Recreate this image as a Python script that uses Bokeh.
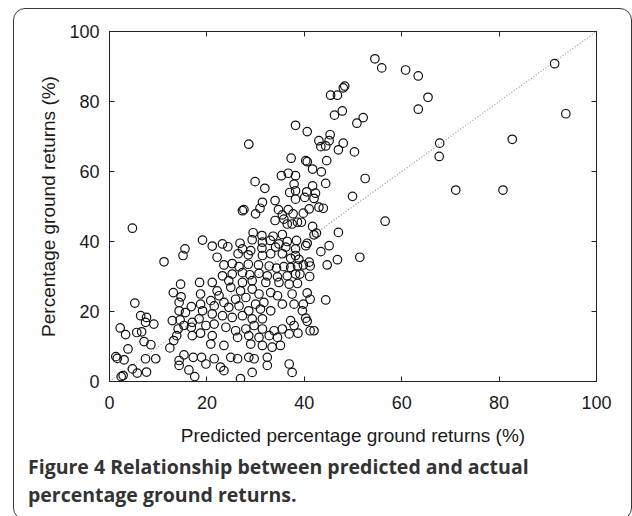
from bokeh.plotting import figure
from bokeh.models import Range1d, LinearAxis, Div, InlineStyleSheet
from bokeh.layouts import column
from bokeh.embed import file_html
from bokeh.resources import INLINE

# (predicted %, actual %) pairs
pts_low = [
    (4.7, 43.8), (11.2, 34.2), (15.5, 37.9), (15.1, 36.0), (19.1, 40.4),
    (14.6, 27.8), (18.5, 28.3), (13.1, 25.4), (14.7, 24.2), (14.3, 22.6), (18.7, 25.0),
    (5.2, 22.4), (16.8, 21.4), (14.3, 20.2), (15.6, 19.7), (19.1, 20.2), (6.4, 18.8),
    (7.6, 18.3), (7.4, 16.9), (9.1, 16.4), (12.9, 17.4), (14.5, 17.6), (17.0, 16.9),
    (18.4, 17.9), (2.2, 15.3), (3.3, 13.4), (5.6, 14.0), (6.6, 14.2), (14.1, 15.0),
    (15.3, 16.0), (16.8, 15.5), (13.8, 13.1), (13.2, 11.7), (17.0, 13.1), (18.7, 13.8),
    (7.1, 11.4), (8.5, 10.5), (3.8, 9.3), (12.4, 9.6), (1.3, 7.1), (1.6, 6.6), (3.0, 6.2),
    (7.4, 6.5), (9.5, 6.5), (14.3, 6.0), (15.3, 7.6), (17.2, 6.9), (18.9, 6.9), (14.3, 4.6),
    (16.3, 3.3), (17.5, 1.4), (4.7, 3.6), (5.7, 2.4), (7.6, 2.7), (2.8, 1.7), (2.4, 1.4),
]
pts_mid_upper = [
    (28.6, 67.8), (37.3, 63.8), (35.3, 58.8), (36.7, 59.5), (38.2, 58.8), (29.9, 57.1),
    (31.9, 55.2), (37.0, 54.0), (38.2, 54.5), (34.0, 51.7), (38.2, 52.1), (31.4, 51.2),
    (30.9, 49.5), (27.6, 49.1), (27.3, 48.8), (30.0, 47.9), (34.7, 49.1), (36.7, 49.1),
    (35.5, 47.6), (37.7, 47.9), (34.0, 46.0), (35.8, 46.4), (36.5, 45.0), (37.5, 45.0),
    (38.6, 45.5), (29.5, 42.5), (31.3, 41.7), (33.6, 41.5), (35.5, 42.0), (21.1, 38.7),
    (23.2, 39.3), (24.3, 38.5), (26.8, 39.5), (29.3, 40.5), (31.4, 39.8), (33.0, 40.3),
    (34.8, 39.3), (36.5, 40.0), (27.3, 37.9), (29.0, 37.4), (31.3, 38.1), (34.1, 38.4),
    (36.2, 38.4), (38.2, 37.9), (26.4, 36.5), (28.5, 36.2), (31.4, 36.0), (33.1, 36.5),
    (35.5, 36.5), (37.2, 35.2), (22.1, 35.5),
]
pts_mid_lower = [
    (23.5, 33.3), (25.2, 33.7), (26.6, 32.8), (28.5, 33.5), (30.6, 33.3), (32.8, 33.0),
    (34.3, 32.4), (35.8, 32.8), (37.2, 32.6), (38.6, 33.0),
    (23.2, 30.2), (25.2, 30.7), (27.3, 31.1), (28.8, 30.5), (30.7, 30.9), (32.4, 30.2),
    (34.5, 29.9), (36.5, 30.2), (38.2, 30.7),
    (21.1, 28.3), (24.5, 28.8), (27.3, 28.3), (29.3, 28.8), (32.1, 28.3), (34.8, 28.3), (36.9, 27.8),
    (22.1, 25.9), (24.9, 26.9), (26.9, 25.9), (29.3, 26.4), (30.7, 25.0), (33.1, 25.4),
    (34.5, 24.5), (37.5, 25.0),
    (18.7, 22.1), (20.8, 23.1), (22.5, 24.5), (23.5, 22.6), (25.9, 23.5), (28.0, 24.0),
    (30.0, 22.1), (31.7, 22.6), (35.5, 22.1), (37.9, 22.1),
    (21.5, 21.6), (24.5, 21.2), (26.6, 21.6), (28.6, 20.2), (31.0, 20.7), (33.1, 20.2),
    (21.1, 19.3), (23.2, 18.8), (25.2, 18.3), (27.3, 18.8), (29.3, 17.9), (31.4, 17.9), (37.2, 17.4),
    (19.8, 16.0), (21.5, 16.4), (23.9, 15.5), (25.9, 14.5), (28.0, 15.0), (29.7, 16.0),
    (31.4, 15.0), (33.8, 14.5), (35.5, 15.0), (37.9, 16.0),
    (21.1, 13.1), (26.3, 12.6), (28.6, 13.1), (30.7, 12.6), (32.8, 13.1), (34.5, 12.6), (36.9, 13.6),
    (20.8, 10.7), (23.5, 10.3), (29.0, 10.7), (31.4, 10.3), (33.4, 9.8), (35.1, 10.3),
    (21.5, 6.5), (24.9, 6.9), (26.3, 6.5), (28.6, 6.9), (29.7, 6.5), (32.4, 6.9),
    (19.8, 5.0), (22.8, 4.1), (23.5, 3.1), (29.3, 2.6), (32.4, 4.6), (36.9, 5.0), (37.5, 2.6),
    (26.9, 0.8),
]
pts_high = [
    (38.2, 73.2), (54.5, 92.2), (55.9, 89.6), (48.3, 84.4), (48.0, 83.9), (45.4, 81.8),
    (46.8, 81.8), (47.8, 77.3), (46.2, 76.1), (52.1, 75.4), (50.8, 73.8), (40.6, 71.4),
    (43.0, 68.8), (45.3, 70.5), (45.1, 68.8), (48.0, 68.1),
    (43.4, 67.1), (44.4, 67.3), (47.0, 66.2), (50.3, 65.6), (40.3, 63.1), (40.6, 62.8),
    (44.6, 63.1), (41.7, 60.7), (43.5, 59.9), (44.4, 56.6), (52.5, 58.0), (37.9, 56.4),
    (41.7, 55.9), (40.5, 54.2), (42.3, 53.8), (40.1, 52.6), (42.0, 52.3), (49.9, 52.9),
    (43.0, 49.8), (43.9, 49.5), (41.0, 49.3), (39.8, 48.1), (56.6, 45.8), (39.4, 45.5),
    (41.7, 44.3), (42.5, 42.4), (42.0, 41.9), (47.0, 42.6), (38.4, 40.3), (40.6, 39.5),
    (40.3, 38.8), (45.1, 38.8), (43.4, 37.1), (38.2, 36.0), (38.9, 34.9), (41.0, 34.1),
    (46.8, 34.8), (51.4, 35.5),
    (39.8, 33.3), (41.2, 33.0), (44.7, 33.3), (39.1, 30.7), (41.1, 30.0), (38.6, 28.0),
    (40.6, 25.3), (41.2, 23.5), (44.4, 23.3), (39.8, 22.1), (39.6, 20.2), (40.3, 18.1),
    (40.6, 17.2), (38.7, 13.8), (41.2, 14.5), (42.0, 14.5),
]
pts_far = [
    (60.8, 89.0), (63.4, 87.3), (65.4, 81.2), (63.4, 77.8), (91.4, 90.8), (93.7, 76.5),
    (67.8, 68.1), (82.7, 69.2), (67.7, 64.3), (71.1, 54.7), (80.8, 54.7),
]
all_pts = pts_low + pts_mid_upper + pts_mid_lower + pts_high + pts_far
predicted = [a for a, b in all_pts]
actual = [b for a, b in all_pts]

identity = [0, 100]
tick_values = [0, 20, 40, 60, 80, 100]
x_title = "Predicted percentage ground returns (%)"
y_title = "Percentage ground returns (%)"
caption_line1 = "Figure 4 Relationship between predicted and actual"
caption_line2 = "percentage ground returns."

FONT = "Liberation Sans"

p = figure(width=607, height=440, x_range=Range1d(0, 100), y_range=Range1d(0, 100),
           output_backend="svg", toolbar_location=None,
           min_border_left=96, min_border_right=24, min_border_top=23, min_border_bottom=66)
p.grid.visible = False
p.outline_line_color = "#222222"
p.outline_line_width = 1
p.background_fill_color = "white"
p.border_fill_color = None

p.line(identity, identity, line_color="#9a9a9a", line_width=1.2, line_dash="1 2")
p.scatter(predicted, actual, marker="circle", size=8.5, fill_color=None,
          line_color="#111111", line_width=1.2)

for ax in (p.xaxis[0], p.yaxis[0]):
    ax.ticker = tick_values
    ax.major_tick_in = 5
    ax.major_tick_out = 0
    ax.minor_tick_line_color = None
    ax.axis_line_color = "#222222"
    ax.major_tick_line_color = "#222222"
    ax.major_label_text_font = FONT
    ax.major_label_text_font_size = "18px"
    ax.major_label_text_color = "#1a1a1a"
    ax.axis_label_text_font = FONT
    ax.axis_label_text_font_size = "19px"
    ax.axis_label_text_font_style = "normal"
    ax.axis_label_text_color = "#1a1a1a"

p.xaxis[0].axis_label = x_title
p.xaxis[0].major_label_standoff = 14
p.xaxis[0].axis_label_standoff = 13
p.yaxis[0].axis_label = y_title
p.yaxis[0].major_label_standoff = 10
p.yaxis[0].axis_label_standoff = 7

for side in ("right", "above"):
    ax = LinearAxis(ticker=tick_values)
    ax.major_tick_in = 5
    ax.major_tick_out = 0
    ax.minor_tick_line_color = None
    ax.axis_line_color = "#222222"
    ax.major_tick_line_color = "#222222"
    ax.major_label_text_font_size = "0px"
    ax.major_label_overrides = {t: "" for t in tick_values}
    ax.major_label_standoff = 0
    p.add_layout(ax, side)

caption = Div(
    text=f"{caption_line1}<br>{caption_line2}",
    width=607, height=60,
    styles={"font-family": "'Open Sans', sans-serif", "font-size": "19.5px",
            "font-weight": "bold", "color": "#333333", "line-height": "28px",
            "padding-left": "10px", "box-sizing": "border-box", "white-space": "nowrap"},
)

frame_css = InlineStyleSheet(css="""
:host { position: relative; }
:host::after {
  content: "";
  position: absolute;
  left: 0; top: 0; right: -2px; bottom: -2px;
  border: 1.3px solid #3a3a3a;
  border-radius: 12px;
  pointer-events: none;
  z-index: 1000;
}
""")

layout = column(p, caption, spacing=0, stylesheets=[frame_css])
layout.styles = {"margin-left": "13px", "margin-top": "8px", "background": "white"}

open("out.html", "w").write(file_html(layout, INLINE))
